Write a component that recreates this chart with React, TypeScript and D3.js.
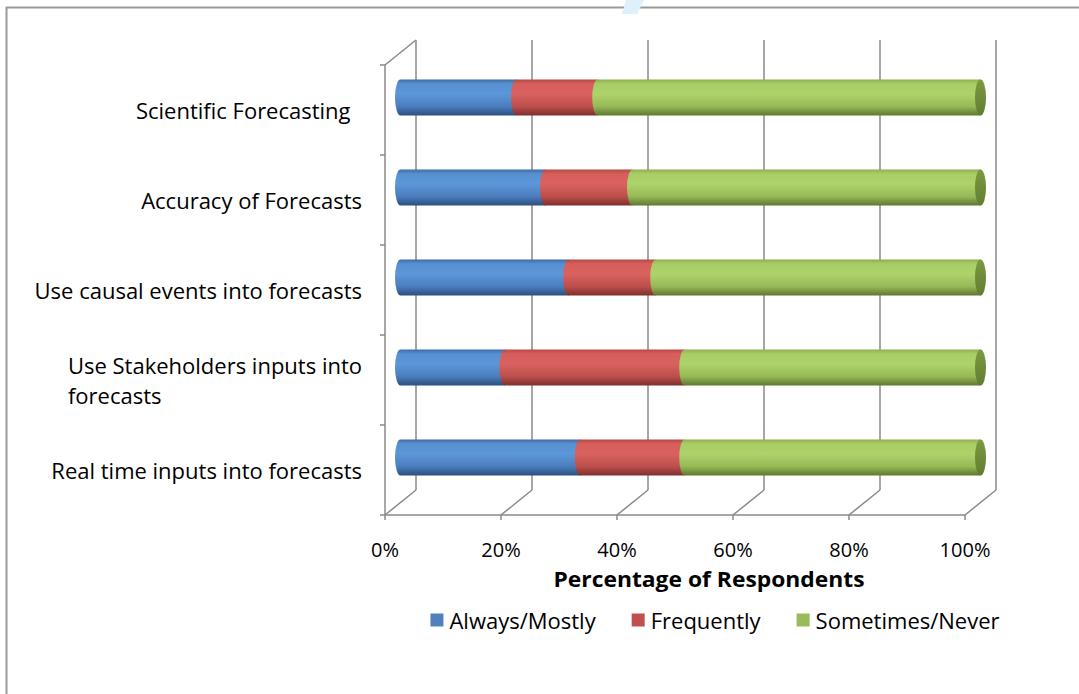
import React, { useEffect, useRef } from 'react';
import * as d3 from 'd3';

const categories = [
  'Scientific Forecasting',
  'Accuracy of Forecasts',
  'Use causal events into forecasts',
  'Use Stakeholders inputs into forecasts',
  'Real time inputs into forecasts',
];
const categoryLines = [
  ['Scientific Forecasting  '],
  ['Accuracy of Forecasts'],
  ['Use causal events into forecasts'],
  ['Use Stakeholders inputs into', 'forecasts'],
  ['Real time inputs into forecasts'],
];
const seriesNames = ['Always/Mostly', 'Frequently', 'Sometimes/Never'];
const alwaysMostly = [20, 25, 29, 18, 31];
const frequently = [14, 15, 15, 31, 18];
const sometimesNever = [66, 60, 56, 51, 51];
const xTicks = [0, 20, 40, 60, 80, 100];
const xTickLabels = ['0%', '20%', '40%', '60%', '80%', '100%'];
const axisTitle = 'Percentage of Respondents';

const W = 1079;
const H = 694;
const FONT = "'Open Sans', Lato, sans-serif";

const seriesColors = ['#4F81BD', '#C0504D', '#9BBB59'];
const seriesStops: [number, string][][] = [
  [[0, '#3d6ca6'], [0.12, '#5790d0'], [0.4, '#5d97d9'], [0.75, '#4b7dbd'], [1, '#2c4f7e']],
  [[0, '#b54845'], [0.12, '#d65f5c'], [0.4, '#d9625f'], [0.75, '#bd4e4b'], [1, '#7d302e']],
  [[0, '#8fad4e'], [0.12, '#a9cd66'], [0.4, '#afd36b'], [0.75, '#97b857'], [1, '#5e7830']],
];

export default function App() {
  const ref = useRef<SVGSVGElement | null>(null);

  useEffect(() => {
    const svg = d3.select(ref.current);
    svg.selectAll('*').remove();

    const table = categories.map((c, i) => ({
      category: c,
      [seriesNames[0]]: alwaysMostly[i],
      [seriesNames[1]]: frequently[i],
      [seriesNames[2]]: sometimesNever[i],
    }));
    const stacked = d3.stack<any>().keys(seriesNames)(table);

    const x = d3.scaleLinear().domain([0, 100]).range([385, 965]);
    const y = d3.scaleBand<string>().domain(categories).range([65, 515]).padding(0);
    const dx = 31;
    const dy = -25;
    const barH = 36;
    const rx = 5.5;
    const grid = '#8a8a8a';

    const defs = svg.append('defs');
    seriesStops.forEach((stops, i) => {
      const g = defs.append('linearGradient').attr('id', `g${i}`).attr('x1', 0).attr('y1', 0).attr('x2', 0).attr('y2', 1);
      stops.forEach(([o, c]) => g.append('stop').attr('offset', o).attr('stop-color', c));
    });
    const cap = defs.append('linearGradient').attr('id', 'cap').attr('x1', 0).attr('y1', 0).attr('x2', 0).attr('y2', 1);
    cap.append('stop').attr('offset', 0).attr('stop-color', '#7a9a40');
    cap.append('stop').attr('offset', 1).attr('stop-color', '#627d32');

    // outer border
    svg.append('path').attr('d', `M6.5,${H} V7.5 H${W}`).attr('fill', 'none').attr('stroke', '#9a9a9a').attr('stroke-width', 2);
    // faint watermark
    svg.append('path').attr('d', 'M626,0 L644,0 L637,14 L622,14 Z').attr('fill', '#dff0fb');

    // back wall gridlines
    const yTop = 65 + dy;
    const yFloorBack = 515 + dy;
    svg.append('g').selectAll('line').data(xTicks).join('line')
      .attr('x1', d => x(d) + dx).attr('x2', d => x(d) + dx)
      .attr('y1', yTop).attr('y2', yFloorBack)
      .attr('stroke', grid).attr('stroke-width', 1.5);
    // floor diagonals
    svg.append('g').selectAll('line').data(xTicks).join('line')
      .attr('x1', d => x(d)).attr('x2', d => x(d) + dx)
      .attr('y1', 515).attr('y2', yFloorBack)
      .attr('stroke', grid).attr('stroke-width', 1.5);
    // front axis line and ticks
    svg.append('line').attr('x1', x(0)).attr('x2', x(100)).attr('y1', 515).attr('y2', 515)
      .attr('stroke', grid).attr('stroke-width', 1.5);
    svg.append('g').selectAll('line').data(xTicks).join('line')
      .attr('x1', d => x(d)).attr('x2', d => x(d)).attr('y1', 515).attr('y2', 520)
      .attr('stroke', grid).attr('stroke-width', 1.5);
    // left wall
    svg.append('line').attr('x1', x(0)).attr('x2', x(0)).attr('y1', 65).attr('y2', 515)
      .attr('stroke', grid).attr('stroke-width', 1.5);
    svg.append('line').attr('x1', x(0)).attr('x2', x(0) + dx).attr('y1', 65).attr('y2', yTop)
      .attr('stroke', grid).attr('stroke-width', 1.5);
    const bounds = [...categories.map(c => y(c)!), 515];
    svg.append('g').selectAll('line').data(bounds).join('line')
      .attr('x1', x(0) - 5).attr('x2', x(0)).attr('y1', d => d).attr('y2', d => d)
      .attr('stroke', grid).attr('stroke-width', 1.5);

    // bars (cylinders)
    const barsG = svg.append('g');
    stacked.forEach((layer, si) => {
      layer.forEach((d, ci) => {
        const cy = y(categories[ci])! + y.bandwidth() / 2 + dy / 2;
        const top = cy - barH / 2;
        const bot = cy + barH / 2;
        const x0 = x(d[0]) + dx / 2;
        const x1 = x(d[1]) + dx / 2;
        barsG.append('path')
          .attr('d', `M${x0},${top} L${x1},${top} L${x1},${bot} L${x0},${bot} A${rx},${barH / 2} 0 0 1 ${x0},${top} Z`)
          .attr('fill', `url(#g${si})`);
        if (si === stacked.length - 1) {
          barsG.append('ellipse').attr('cx', x1).attr('cy', cy).attr('rx', rx).attr('ry', barH / 2)
            .attr('fill', 'url(#cap)');
        }
      });
    });

    // category labels
    const labG = svg.append('g').attr('font-family', FONT).attr('font-size', 22).attr('fill', '#000');
    categoryLines.forEach((lines, ci) => {
      const cyc = y(categories[ci])! + y.bandwidth() / 2;
      const lh = 30;
      const startY = cyc - ((lines.length - 1) * lh) / 2;
      const t0 = labG.append('text').attr('x', 362).attr('y', startY).attr('text-anchor', 'end')
        .attr('dominant-baseline', 'central').attr('xml:space', 'preserve').style('white-space', 'pre').text(lines[0]);
      const w0 = (t0.node() as SVGTextElement).getComputedTextLength();
      for (let k = 1; k < lines.length; k++) {
        labG.append('text').attr('x', 362 - w0).attr('y', startY + k * lh)
          .attr('dominant-baseline', 'central').text(lines[k]);
      }
    });

    // tick labels
    svg.append('g').attr('font-family', FONT).attr('font-size', 20).selectAll('text').data(xTicks).join('text')
      .attr('x', d => x(d)).attr('y', 549).attr('text-anchor', 'middle').attr('dominant-baseline', 'central')
      .text((d, i) => xTickLabels[i]);

    // axis title
    svg.append('text').attr('x', 709).attr('y', 579).attr('text-anchor', 'middle').attr('dominant-baseline', 'central')
      .attr('font-family', FONT).attr('font-weight', 'bold').attr('font-size', 21)
      .attr('textLength', 311).attr('lengthAdjust', 'spacingAndGlyphs').text(axisTitle);

    // legend
    const legG = svg.append('g').attr('font-family', FONT).attr('font-size', 22);
    const items = seriesNames.map((n, i) => {
      const g = legG.append('g');
      g.append('rect').attr('width', 13).attr('height', 13).attr('y', -6.5).attr('fill', seriesColors[i]);
      const t = g.append('text').attr('x', 19).attr('y', 0).attr('dominant-baseline', 'central').text(n);
      const w = 19 + (t.node() as SVGTextElement).getComputedTextLength();
      return { g, w };
    });
    const gap = 36;
    const total = d3.sum(items, d => d.w) + gap * (items.length - 1);
    let cx = 715 - total / 2;
    items.forEach(it => {
      it.g.attr('transform', `translate(${cx},620)`);
      cx += it.w + gap;
    });
  }, []);

  return (
    <svg ref={ref} width={W} height={H} style={{ position: 'absolute', left: 0, top: 0, background: '#fff' }} />
  );
}
